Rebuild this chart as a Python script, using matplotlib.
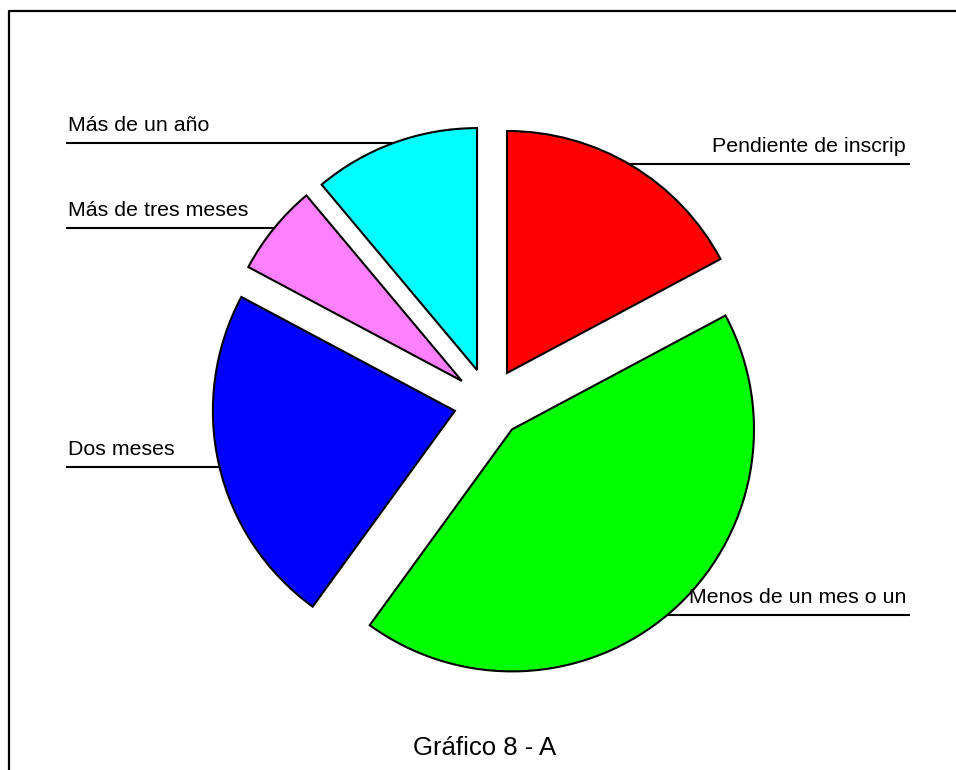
import numpy as np
import matplotlib.pyplot as plt

plt.rcParams['font.family'] = ['Liberation Sans', 'DejaVu Sans']

categorias = ["Pendiente de inscrip", "Menos de un mes o un", "Dos meses",
              "Más de tres meses", "Más de un año"]
valores = [17.2, 42.8, 22.8, 6.1, 11.1]
colores = ["#FF0000", "#00FF00", "#0000FF", "#FF80FF", "#00FFFF"]

# altura (en píxeles desde arriba) de la línea de cada etiqueta y su lado
lineas_y = [164, 615, 467, 228, 143]
lados = ["right", "right", "left", "left", "left"]

W, H = 956, 770
fig = plt.figure(figsize=(W / 100, H / 100), dpi=100)
ax = fig.add_axes([0, 0, 1, 1])

radio = 242
centro = (489, H - 403)
# en matplotlib el desplazamiento va en unidades de datos
separacion = 35
wedges, _ = ax.pie(valores, colors=colores, startangle=90, counterclock=False,
                   radius=radio, center=centro,
                   explode=[separacion] * len(valores),
                   wedgeprops=dict(edgecolor="black", linewidth=1.5),
                   frame=True)
ax.set_xlim(0, W)
ax.set_ylim(0, H)
ax.set_aspect("equal")
ax.axis("off")

for w, nombre, ly, lado in zip(wedges, categorias, lineas_y, lados):
    y = H - ly
    cx, cy = w.center
    dx = np.sqrt(max(w.r ** 2 - (y - cy) ** 2, 0))
    if lado == "left":
        x_borde = cx - dx
        ax.plot([67, x_borde], [y, y], color="black", lw=1.5, zorder=0)
        ax.text(68, y + 8, nombre, fontsize=15.4, ha="left", va="bottom")
    else:
        x_borde = cx + dx
        ax.plot([x_borde, 909], [y, y], color="black", lw=1.5, zorder=0)
        ax.text(906, y + 8, nombre, fontsize=15.4, ha="right", va="bottom")

# marco del gráfico
ax.plot([9, 9, W + 5], [-5, H - 11, H - 11], color="black", lw=1.6,
        clip_on=False)

ax.text(485, H - 755, "Gráfico 8 - A", fontsize=18.5, ha="center",
        va="baseline")

fig.savefig("out.png", dpi=100)
